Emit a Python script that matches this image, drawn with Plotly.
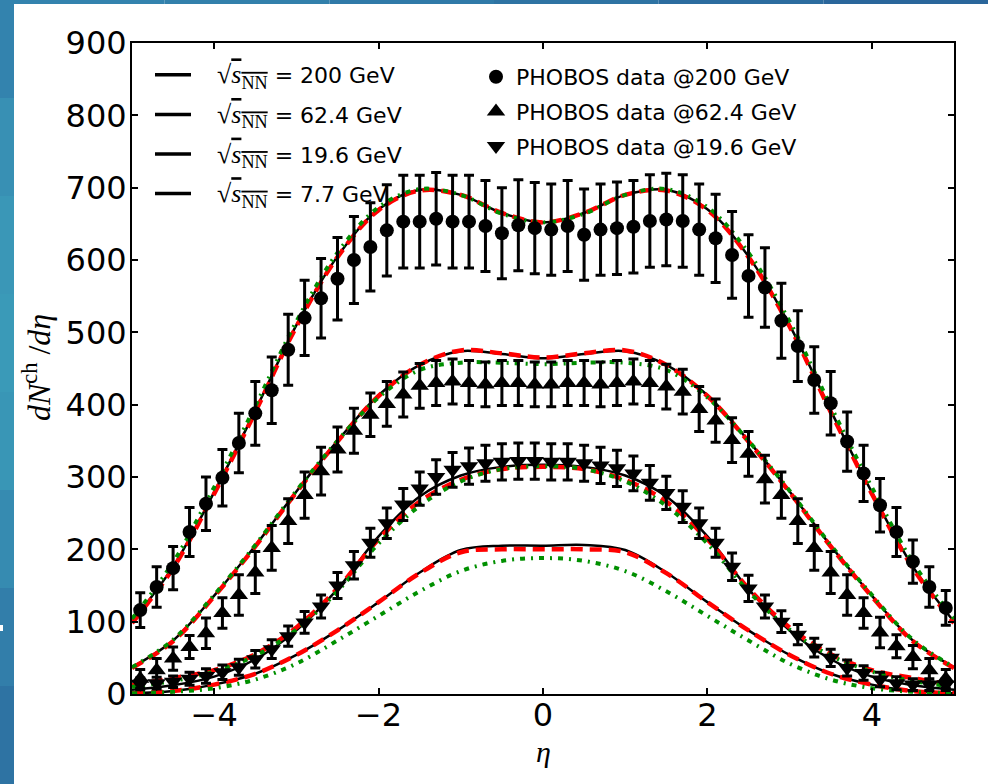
import plotly.graph_objects as go

# ---------------- data ----------------
eta_data = [-4.9, -4.7, -4.5, -4.3, -4.1, -3.9, -3.7, -3.5, -3.3, -3.1, -2.9, -2.7, -2.5,
            -2.3, -2.1, -1.9, -1.7, -1.5, -1.3, -1.1, -0.9, -0.7, -0.5, -0.3, -0.1,
            0.1, 0.3, 0.5, 0.7, 0.9, 1.1, 1.3, 1.5, 1.7, 1.9, 2.1, 2.3, 2.5, 2.7,
            2.9, 3.1, 3.3, 3.5, 3.7, 3.9, 4.1, 4.3, 4.5, 4.7, 4.9]

phobos_200 = [116, 148, 174, 224, 263, 299, 347, 388, 420, 476, 520, 547, 574, 600, 618,
              641, 653, 653, 657, 653, 653, 647, 637, 648, 644,
              642, 647, 635, 642, 644, 646, 654, 656, 654, 642, 630, 607, 578, 562, 516,
              481, 434, 402, 349, 305, 261, 224, 183, 148, 119]
err_200 = [24, 28, 30, 34, 37, 39, 41, 44, 46, 49, 52, 55, 57, 60, 61, 63, 64, 64, 64, 64,
           64, 63, 63, 63, 63,
           63, 63, 63, 63, 64, 64, 64, 64, 64, 63, 61, 60, 57, 55, 52, 49, 46, 44, 41, 39,
           37, 34, 30, 28, 24]

phobos_62 = [21, 33, 49, 65, 84, 112, 137, 168, 202, 239, 275, 308, 338, 364, 386, 401,
             414, 426, 430, 432, 430, 428, 430, 430, 428,
             428, 430, 430, 428, 430, 432, 430, 425, 418, 394, 378, 351, 332, 297, 275,
             239, 202, 168, 137, 112, 85, 66, 51, 33, 21]
err_62 = [13, 16, 16, 16, 21, 21, 28, 29, 31, 31, 32, 33, 31, 31, 30, 31, 31, 31, 31, 31,
          31, 31, 31, 31, 31,
          31, 31, 31, 31, 31, 31, 31, 31, 31, 31, 30, 31, 31, 33, 32, 31, 31, 29, 28, 21,
          21, 16, 16, 16, 13]

phobos_19 = [14, 15, 17, 21, 25, 30, 37, 48, 62, 80, 99, 121, 150, 178, 209, 236, 262,
             284, 300, 310, 315, 319, 321, 322, 322,
             321, 321, 319, 316, 312, 305, 292, 278, 259, 236, 209, 176, 146, 121, 100,
             82, 64, 50, 36, 29, 20, 15, 13, 13, 13]
err_19 = [8, 8, 8, 9, 10, 10, 11, 12, 13, 14, 15, 16, 18, 19, 20, 21, 22, 23, 24, 24, 25,
          25, 25, 25, 25,
          25, 25, 25, 25, 25, 24, 24, 23, 22, 21, 20, 19, 18, 16, 15, 14, 13, 12, 11, 10,
          10, 9, 8, 8, 8]

eta_curve = [-5.0, -4.5, -4.0, -3.5, -3.0, -2.5, -2.0, -1.5, -1.0, -0.5, 0.0,
             0.5, 1.0, 1.5, 2.0, 2.5, 3.0, 3.5, 4.0, 4.5, 5.0]

c200_black = [100, 176, 279, 392, 510, 605, 670, 697, 690, 665, 652, 665, 690, 697, 670, 605, 510, 392, 279, 176, 100]
c200_red = [98, 174, 277, 390, 508, 604, 669, 696, 690, 665, 652, 665, 690, 696, 669, 604, 508, 390, 277, 174, 98]
c200_green = [104, 182, 286, 398, 515, 610, 673, 698, 690, 664, 652, 664, 690, 698, 673, 610, 515, 398, 286, 182, 104]

c62_black = [37, 74, 136, 205, 280, 350, 413, 455, 474, 470, 464, 470, 474, 455, 413, 350, 280, 205, 136, 74, 37]
c62_red = [36, 73, 135, 204, 279, 349, 412, 455, 475, 471, 465, 471, 475, 455, 412, 349, 279, 204, 135, 73, 36]
c62_green = [37, 75, 137, 206, 281, 350, 410, 448, 458, 458, 456, 458, 458, 448, 410, 350, 281, 206, 137, 75, 37]

c19_black = [6, 12, 24, 48, 88, 145, 218, 273, 302, 314, 317, 314, 302, 273, 218, 145, 88, 48, 24, 12, 6]
c19_red = [12, 22, 33, 55, 92, 146, 214, 266, 296, 311, 314, 311, 296, 266, 214, 146, 92, 55, 33, 22, 12]
c19_green = [10, 18, 31, 53, 89, 142, 208, 260, 294, 311, 315, 311, 294, 260, 208, 142, 89, 53, 31, 18, 10]

c7_black = [1, 4, 13, 28, 54, 88, 127, 168, 199, 205, 205, 206, 199, 168, 127, 88, 54, 28, 13, 4, 1]
c7_red = [1, 4, 13, 28, 54, 88, 127, 167, 196, 200, 200, 200, 196, 167, 127, 88, 54, 28, 13, 4, 1]
c7_green = [1, 3, 8, 20, 42, 74, 108, 142, 170, 184, 188, 184, 170, 142, 108, 74, 42, 20, 8, 3, 1]

SQ = ("\u00a0\u00a0\u00a0<span style=\"font-family:'Liberation Serif';font-size:26px\">√"
      "<span style=\"text-decoration:overline\"><i>s</i><sub>NN</sub></span></span>")
curve_names = [SQ + " = 200 GeV", SQ + " = 62.4 GeV", SQ + " = 19.6 GeV", SQ + " = 7.7 GeV"]
data_names = ["PHOBOS data @200 GeV", "PHOBOS data @62.4 GeV", "PHOBOS data @19.6 GeV"]

x_ticks = [-4, -2, 0, 2, 4]
x_ticktext = ["−4", "−2", "0", "2", "4"]
y_ticks = [0, 100, 200, 300, 400, 500, 600, 700, 800, 900]

# ---------------- geometry helpers (pixel -> paper) ----------------
L, R, T, B = 132, 954, 43, 694
W, H = R - L, B - T


def px(x):
    return (x - L) / W


def py(y):
    return (B - y) / H


FONT = "DejaVu Sans"
SERIF = "Liberation Serif"
RED = "#ff0000"
GREEN = "#009000"

fig = go.Figure()

black_sets = [c200_black, c62_black, c19_black, c7_black]
red_sets = [c200_red, c62_red, c19_red, c7_red]
green_sets = [c200_green, c62_green, c19_green, c7_green]

for ys in black_sets:
    fig.add_trace(go.Scatter(x=eta_curve, y=ys, mode="lines", showlegend=False,
                             line=dict(color="black", width=2.5, shape="spline", smoothing=1.0)))
for ys in red_sets:
    fig.add_trace(go.Scatter(x=eta_curve, y=ys, mode="lines", showlegend=False,
                             line=dict(color=RED, width=4.5, dash="12px,7px", shape="spline", smoothing=1.0)))
for ys in green_sets:
    fig.add_trace(go.Scatter(x=eta_curve, y=ys, mode="lines", showlegend=False,
                             line=dict(color=GREEN, width=4, dash="5px,6px,2px,6px", shape="spline", smoothing=1.0)))

# legend entries for the model curves (thicker legend line, as in the original)
for i, name in enumerate(curve_names):
    fig.add_trace(go.Scatter(x=[None], y=[None], mode="lines", name=name,
                             line=dict(color="black", width=3.5),
                             legend="legend", legendgroup="c%d" % i, showlegend=True))

sets = [(phobos_200, err_200, "circle", 14), (phobos_62, err_62, "triangle-up", 16),
        (phobos_19, err_19, "triangle-down", 16)]
for i, (ys, es, sym, sz) in enumerate(sets):
    fig.add_trace(go.Scatter(x=eta_data, y=ys, mode="markers", name=data_names[i],
                             marker=dict(symbol=sym, size=sz, color="black", line=dict(width=0)),
                             error_y=dict(type="data", array=es, visible=True, color="black",
                                          thickness=3, width=5),
                             legend="legend2", legendgroup="d%d" % i, showlegend=True))

# ---------------- slide background (blue gradient strips) ----------------
left_band_colors = ["#3383ae", "#3890b4", "#3a97b7", "#3a9ab8", "#3996b6", "#368bb1", "#327eaa", "#2e73a3"]
top_band_colors = ["#3383ae", "#3280ab", "#307aa8", "#2e73a3", "#2c6c9f", "#2a669b"]
shapes = []
n = len(left_band_colors)
for k, col in enumerate(left_band_colors):
    y0 = 784 * k / n
    y1 = 784 * (k + 1) / n
    shapes.append(dict(type="rect", xref="paper", yref="paper", x0=px(0), x1=px(14),
                       y0=py(y1), y1=py(y0), fillcolor=col, line=dict(width=0), layer="below"))
m = len(top_band_colors)
for k, col in enumerate(top_band_colors):
    x0 = 988 * k / m
    x1 = 988 * (k + 1) / m
    shapes.append(dict(type="rect", xref="paper", yref="paper", x0=px(x0), x1=px(x1),
                       y0=py(4), y1=py(0), fillcolor=col, line=dict(width=0), layer="below"))
shapes.append(dict(type="rect", xref="paper", yref="paper", x0=px(0), x1=px(3),
                   y0=py(631), y1=py(625), fillcolor="white", line=dict(width=0), layer="below"))

axis_common = dict(ticks="inside", ticklen=6, tickwidth=1.5, tickcolor="black",
                   showline=True, linecolor="black", linewidth=2, mirror="ticks",
                   showgrid=False, zeroline=False,
                   tickfont=dict(family=FONT, size=32, color="black"))

fig.update_layout(
    width=988, height=784,
    margin=dict(l=L, r=988 - R, t=T, b=784 - B),
    paper_bgcolor="white", plot_bgcolor="white",
    xaxis=dict(range=[-5, 5], tickvals=x_ticks, ticktext=x_ticktext, ticklabelstandoff=-8,
               **axis_common),
    yaxis=dict(range=[0, 900], tickvals=y_ticks, ticklabelstandoff=-3, **axis_common),
    shapes=shapes,
    legend=dict(x=px(150), y=py(54), xanchor="left", yanchor="top", bgcolor="rgba(0,0,0,0)",
                font=dict(family=FONT, size=22, color="black"), tracegroupgap=8,
                traceorder="grouped", itemwidth=36),
    legend2=dict(x=px(476), y=py(56), xanchor="left", yanchor="top", bgcolor="rgba(0,0,0,0)",
                 font=dict(family=FONT, size=22, color="black"), tracegroupgap=3,
                 traceorder="grouped"),
    annotations=[
        dict(text="<i>dN</i><sup>ch</sup> /<i>dη</i>", xref="paper", yref="paper",
             x=px(37), y=py(368), xanchor="center", yanchor="middle",
             showarrow=False, textangle=-90,
             font=dict(family=SERIF, size=32, color="black")),
        dict(text="<i>η</i>", xref="paper", yref="paper", x=px(543), y=py(751),
             xanchor="center", yanchor="middle",
             showarrow=False, font=dict(family=SERIF, size=30, color="black")),
    ],
)

fig.write_html("out.html")
